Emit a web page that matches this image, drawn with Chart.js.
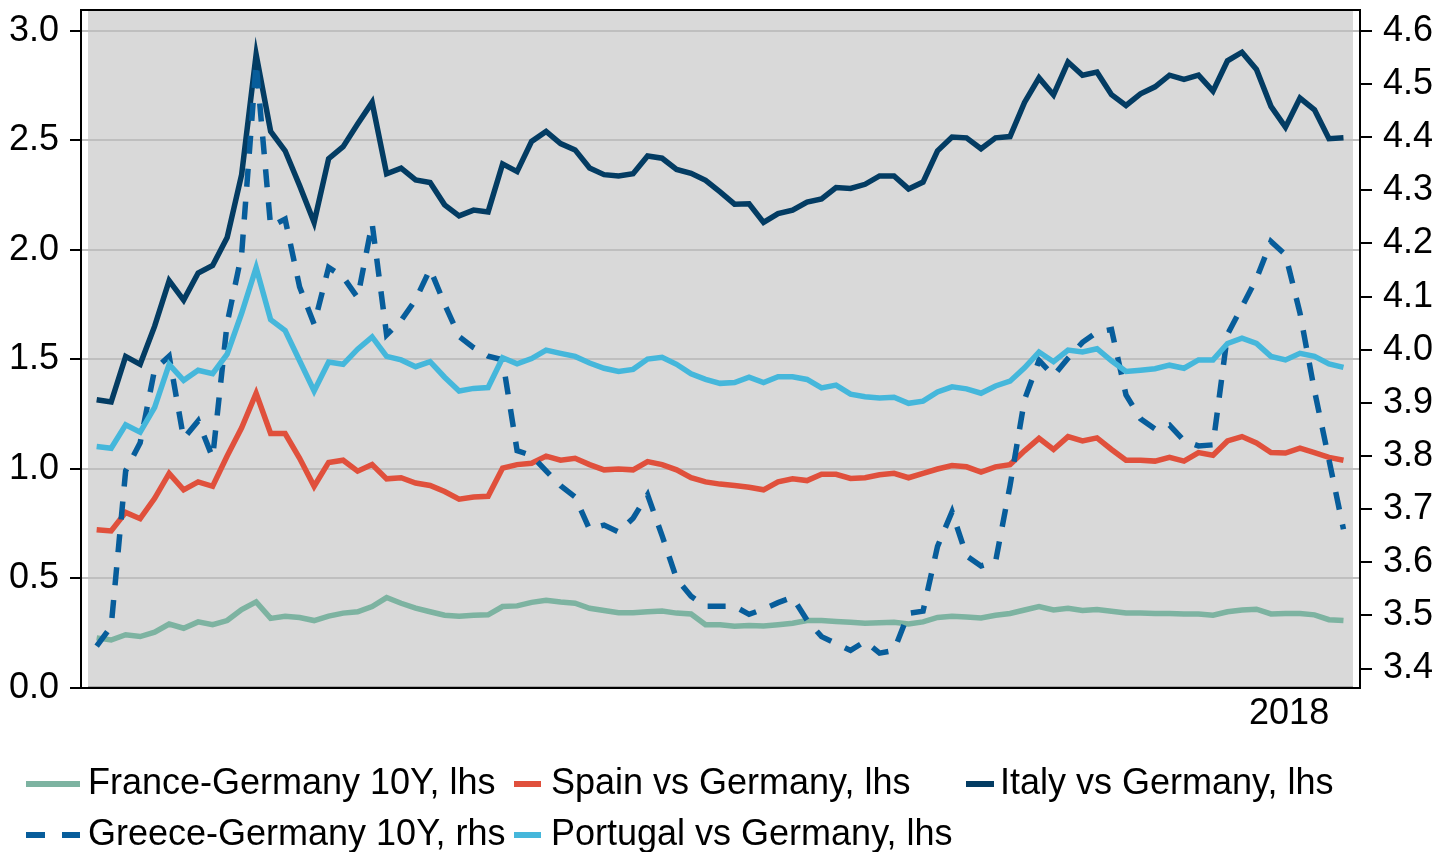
<!DOCTYPE html>
<html>
<head>
<meta charset="utf-8">
<script src="https://cdn.jsdelivr.net/npm/chart.js@4.4.1/dist/chart.umd.min.js"></script>
<style>
  html, body { margin: 0; padding: 0; background: #fff; }
  #wrap { width: 1441px; height: 852px; position: relative; }
</style>
</head>
<body>
<div id="wrap"><canvas id="grafica" width="1441" height="852"></canvas></div>
<script>
// spreads, monthly points, lhs in % pts, Greece on rhs
var franceGermany = [0.229,0.219,0.243,0.235,0.255,0.292,0.273,0.302,0.289,0.308,0.358,0.393,0.318,0.328,0.322,0.308,0.328,0.342,0.348,0.372,0.413,0.387,0.365,0.348,0.332,0.328,0.332,0.334,0.372,0.375,0.391,0.401,0.393,0.387,0.364,0.354,0.344,0.344,0.348,0.352,0.342,0.338,0.289,0.289,0.282,0.285,0.283,0.289,0.296,0.308,0.308,0.304,0.300,0.296,0.298,0.300,0.292,0.302,0.322,0.328,0.324,0.320,0.332,0.340,0.356,0.372,0.356,0.364,0.354,0.358,0.350,0.342,0.342,0.340,0.340,0.338,0.338,0.332,0.348,0.356,0.360,0.338,0.340,0.340,0.334,0.312,0.308];
var spainGermany = [0.723,0.717,0.802,0.773,0.866,0.980,0.905,0.941,0.921,1.059,1.188,1.346,1.162,1.162,1.049,0.921,1.030,1.040,0.990,1.020,0.955,0.960,0.936,0.925,0.897,0.862,0.872,0.875,1.004,1.020,1.026,1.059,1.040,1.049,1.020,0.996,1.000,0.996,1.034,1.020,0.996,0.960,0.941,0.931,0.925,0.917,0.905,0.941,0.955,0.947,0.976,0.976,0.957,0.960,0.974,0.980,0.960,0.980,1.000,1.016,1.010,0.986,1.010,1.020,1.083,1.140,1.089,1.148,1.128,1.142,1.089,1.040,1.040,1.036,1.053,1.036,1.075,1.063,1.128,1.148,1.119,1.075,1.073,1.095,1.075,1.053,1.040];
var italyGermany = [1.316,1.306,1.514,1.478,1.652,1.860,1.771,1.895,1.929,2.057,2.344,2.893,2.542,2.453,2.294,2.126,2.417,2.472,2.575,2.674,2.348,2.374,2.320,2.308,2.206,2.156,2.182,2.174,2.393,2.358,2.496,2.541,2.486,2.457,2.374,2.344,2.338,2.348,2.429,2.419,2.368,2.350,2.318,2.265,2.209,2.211,2.126,2.166,2.182,2.219,2.233,2.285,2.281,2.300,2.338,2.338,2.279,2.310,2.453,2.516,2.512,2.462,2.512,2.518,2.674,2.786,2.708,2.858,2.798,2.812,2.709,2.660,2.713,2.745,2.798,2.779,2.798,2.725,2.864,2.903,2.824,2.656,2.561,2.694,2.640,2.508,2.512];
var greeceGermany = [3.442,3.479,3.772,3.825,3.963,3.988,3.833,3.866,3.797,4.050,4.180,4.540,4.232,4.246,4.118,4.048,4.155,4.137,4.098,4.238,4.028,4.055,4.094,4.152,4.086,4.025,4.004,3.988,3.981,3.810,3.801,3.772,3.744,3.723,3.662,3.670,3.657,3.683,3.727,3.650,3.569,3.536,3.517,3.517,3.517,3.502,3.512,3.524,3.534,3.491,3.460,3.447,3.434,3.451,3.429,3.434,3.504,3.508,3.630,3.695,3.612,3.593,3.601,3.744,3.906,3.980,3.951,3.984,4.014,4.033,4.038,3.915,3.870,3.851,3.858,3.829,3.819,3.821,4.029,4.081,4.134,4.204,4.179,4.069,3.923,3.793,3.662];
var portugalGermany = [1.103,1.095,1.202,1.168,1.281,1.478,1.405,1.451,1.435,1.524,1.711,1.919,1.682,1.632,1.494,1.356,1.488,1.478,1.547,1.603,1.514,1.498,1.467,1.490,1.419,1.356,1.368,1.372,1.508,1.480,1.504,1.543,1.528,1.514,1.484,1.460,1.445,1.455,1.502,1.510,1.478,1.435,1.409,1.391,1.395,1.419,1.395,1.421,1.421,1.409,1.370,1.383,1.342,1.330,1.324,1.328,1.300,1.310,1.352,1.375,1.366,1.346,1.379,1.401,1.462,1.534,1.490,1.543,1.534,1.549,1.494,1.445,1.451,1.458,1.474,1.460,1.498,1.498,1.573,1.597,1.573,1.514,1.498,1.528,1.514,1.480,1.464];

var seriesNames = ['France-Germany 10Y, lhs', 'Spain vs Germany, lhs', 'Italy vs Germany, lhs', 'Greece-Germany 10Y, rhs', 'Portugal vs Germany, lhs'];

var leftTicks = [0, 0.5, 1, 1.5, 2, 2.5, 3];
var rightTicks = [3.4, 3.5, 3.6, 3.7, 3.8, 3.9, 4.0, 4.1, 4.2, 4.3, 4.4, 4.5, 4.6];
var xTickIndex = [82.25];
var xTickLabels = ['2018'];

var fuente = '"Liberation Sans", Arial, sans-serif';

function puntos(arr) {
  return arr.map(function (v, i) { return { x: i, y: v }; });
}

function serie(label, arr, color, eje, orden, dash) {
  return {
    label: label,
    data: puntos(arr),
    borderColor: color,
    backgroundColor: color,
    borderWidth: 5.5,
    borderDash: dash || [],
    borderCapStyle: 'butt',
    borderJoinStyle: 'miter',
    pointRadius: 0,
    tension: 0,
    yAxisID: eje,
    order: orden
  };
}

var datasets = [
  serie(seriesNames[0], franceGermany, '#7db3a1', 'y', 5),
  serie(seriesNames[1], spainGermany, '#e0503c', 'y', 4),
  serie(seriesNames[2], italyGermany, '#033c63', 'y', 3),
  serie(seriesNames[3], greeceGermany, '#075d9b', 'y1', 2, [18, 15]),
  serie(seriesNames[4], portugalGermany, '#45b7db', 'y', 1)
];

// legend slots (symbol start/end, text x, row y)
var legendSlots = [
  { x0: 26, x1: 80, tx: 88, y: 784 },
  { x0: 514, x1: 541, tx: 551, y: 784 },
  { x0: 966, x1: 994, tx: 1000, y: 784 },
  { x0: 26, x1: 80, tx: 88, y: 835 },
  { x0: 514, x1: 541, tx: 551, y: 835 }
];

function sinPadding(s) {
  s.paddingTop = 0;
  s.paddingBottom = 0;
  s.paddingLeft = 0;
  s.paddingRight = 0;
}

var fondo = {
  id: 'fondo',
  beforeDraw: function (chart) {
    var a = chart.chartArea, ctx = chart.ctx;
    ctx.save();
    ctx.fillStyle = '#fff';
    ctx.fillRect(0, 0, chart.width, chart.height);
    ctx.fillStyle = '#d9d9d9';
    ctx.fillRect(a.left + 7, a.top + 1, a.right - a.left - 14, a.bottom - a.top - 3);
    ctx.fillStyle = '#a8a8a8';
    ctx.fillRect(a.left + 7, a.bottom - 2, a.right - a.left - 14, 2);
    ctx.restore();
  },
  afterDraw: function (chart) {
    var a = chart.chartArea, ctx = chart.ctx;
    ctx.save();
    ctx.strokeStyle = '#000';
    ctx.lineWidth = 2;
    ctx.beginPath();
    ctx.moveTo(a.left, a.top);
    ctx.lineTo(a.right, a.top);
    ctx.stroke();

    ctx.font = '36px ' + fuente;
    ctx.textBaseline = 'middle';
    ctx.textAlign = 'left';
    chart.data.datasets.forEach(function (ds, i) {
      var s = legendSlots[i];
      ctx.strokeStyle = ds.borderColor;
      ctx.lineWidth = 6;
      ctx.lineCap = 'butt';
      ctx.setLineDash(ds.borderDash.length ? [19, 17] : []);
      ctx.beginPath();
      ctx.moveTo(s.x0, s.y);
      ctx.lineTo(s.x1, s.y);
      ctx.stroke();
      ctx.setLineDash([]);
      ctx.fillStyle = '#000';
      ctx.fillText(ds.label, s.tx, s.y);
    });
    ctx.restore();
  }
};

var config = {
  type: 'line',
  data: { datasets: datasets },
  options: {
    responsive: false,
    animation: false,
    layout: { padding: { top: 10, left: 0, right: 0, bottom: 0 } },
    plugins: { legend: { display: false }, tooltip: { enabled: false } },
    scales: {
      x: {
        type: 'linear',
        min: -1.08,
        max: 87.14,
        afterFit: function (s) { s.height = 164; sinPadding(s); },
        afterBuildTicks: function (s) {
          s.ticks = xTickIndex.map(function (v) { return { value: v }; });
        },
        ticks: {
          autoSkip: false,
          maxRotation: 0,
          padding: 4,
          color: '#000',
          font: { family: fuente, size: 36 },
          callback: function (v) {
            var k = xTickIndex.indexOf(v);
            return k >= 0 ? xTickLabels[k] : '';
          }
        },
        grid: { drawOnChartArea: false, drawTicks: false },
        border: { display: true, color: '#000', width: 2 }
      },
      y: {
        position: 'left',
        min: 0,
        max: 3.0958,
        afterFit: function (s) { s.width = 81; sinPadding(s); },
        afterBuildTicks: function (s) {
          s.ticks = leftTicks.map(function (v) { return { value: v }; });
        },
        ticks: {
          padding: 11,
          color: '#000',
          font: { family: fuente, size: 36 },
          callback: function (v) { return v.toFixed(1); }
        },
        grid: { color: '#bfbfbf', lineWidth: 2, tickColor: '#000', tickLength: 11 },
        border: { display: true, color: '#000', width: 2 }
      },
      y1: {
        position: 'right',
        min: 3.3633,
        max: 4.6395,
        afterFit: function (s) { s.width = 81; sinPadding(s); },
        afterBuildTicks: function (s) {
          s.ticks = rightTicks.map(function (v) { return { value: v }; });
        },
        ticks: {
          padding: 11,
          color: '#000',
          font: { family: fuente, size: 36 },
          callback: function (v) { return v.toFixed(1); }
        },
        grid: { drawOnChartArea: false, tickColor: '#000', tickLength: 12, lineWidth: 2 },
        border: { display: true, color: '#000', width: 2 }
      }
    }
  },
  plugins: [fondo]
};

var grafica = new Chart(document.getElementById('grafica'), config);
</script>
</body>
</html>
